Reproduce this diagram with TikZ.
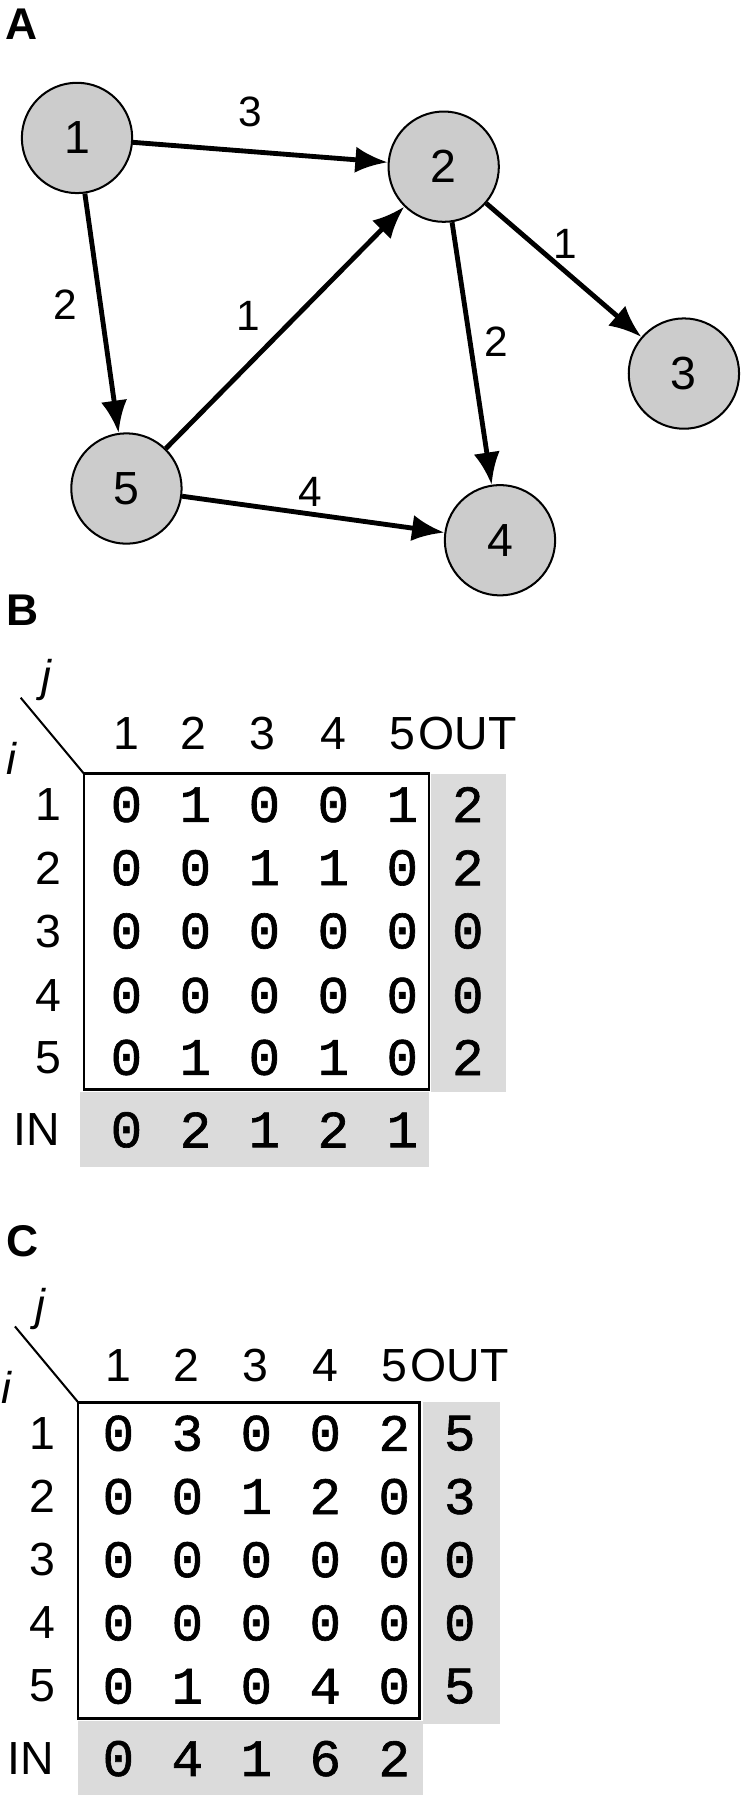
\documentclass[tikz,border=0pt]{standalone}
\usepackage{fontspec}
\setmainfont{Liberation Sans}
\newfontfamily\mono[FakeBold=1.2]{Liberation Mono}
\usetikzlibrary{arrows.meta}
\definecolor{cellgray}{gray}{0.86}
\definecolor{nodegray}{gray}{0.8}
\tikzset{
  vert/.style={circle,draw,line width=1pt,fill=nodegray,minimum size=1.92cm,inner sep=0pt,font=\fontsize{23}{26}\selectfont},
  edge/.style={-{Latex[length=16pt,width=13pt]},line width=2.4pt},
  elab/.style={font=\fontsize{21}{24}\selectfont},
  panel/.style={font=\bfseries\fontsize{22}{26}\selectfont},
  entry/.style={font=\mono\fontsize{26}{30}\selectfont},
  head/.style={font=\fontsize{23}{27}\selectfont},
  ij/.style={font=\itshape\fontsize{22}{26}\selectfont},
}
\begin{document}
\begin{tikzpicture}[x=0.02cm,y=-0.02cm]
  \useasboundingbox (0,0) rectangle (654,1566);
  % panel labels
  \node[panel] (labA) at (19,21) {A};
  \node[panel] (labB) at (20,531) {B};
  \node[panel] (labC) at (20,1080) {C};
  % graph
  \node[vert] (n1) at (67,120) {1};
  \node[vert] (n2) at (386,145) {2};
  \node[vert] (n3) at (595,325) {3};
  \node[vert] (n5) at (110,425) {5};
  \node[vert] (n4) at (435,470) {4};
  \draw[edge] (n1) -- (n2);
  \draw[edge] (n1) -- (n5);
  \draw[edge] (n5) -- (n2);
  \draw[edge] (n2) -- (n3);
  \draw[edge] (n2) -- (n4);
  \draw[edge] (n5) -- (n4);
  \node[elab] (w12) at (218,97) {3};
  \node[elab] (w15) at (57,265) {2};
  \node[elab] (w52) at (216,275) {1};
  \node[elab] (w23) at (492,212) {1};
  \node[elab] (w24) at (432,297) {2};
  \node[elab] (w54) at (270,428) {4};
  % matrix B
  \fill[cellgray] (375,673) rectangle (440,950);
  \fill[cellgray] (70,950) rectangle (373,1015);
  \draw[line width=1.2pt] (73,673) rectangle (373,948);
  \coordinate (dB0) at (18,607);
  \coordinate (dB1) at (73,673);
  \draw[line width=1pt] (dB0) -- (dB1);
  \node[ij] (jB) at (40,592) {j};
  \node[ij] (iB) at (10,660) {i};
  \foreach \c/\x in {1/110,2/168,3/228,4/290,5/350}
    \node[head] (hB\c) at (\x,638) {\c};
  \node[head] (outB) at (407,638) {OUT};
  \foreach \r/\y/\row/\o in {1/700/{0,1,0,0,1}/2,2/755/{0,0,1,1,0}/2,3/810/{0,0,0,0,0}/0,4/866/{0,0,0,0,0}/0,5/920/{0,1,0,1,0}/2}{
    \node[head] (rB\r) at (42,\y) {\r};
    \foreach \v [count=\c] in \row
      \node[entry] (mB\r\c) at (50+60*\c,\y) {\v};
    \node[entry] (oB\r) at (407,\y) {\o};
  }
  \node[head] (inB) at (32,983) {IN};
  \foreach \v [count=\c] in {0,2,1,2,1}
    \node[entry] (iB\c) at (50+60*\c,983) {\v};
  % matrix C
  \fill[cellgray] (368,1220) rectangle (435,1500);
  \fill[cellgray] (68,1497) rectangle (368,1562);
  \draw[line width=1.2pt] (68,1220) rectangle (365,1495);
  \coordinate (dC0) at (13,1154);
  \coordinate (dC1) at (68,1220);
  \draw[line width=1pt] (dC0) -- (dC1);
  \node[ij] (jC) at (35,1139) {j};
  \node[ij] (iC) at (6,1207) {i};
  \foreach \c/\x in {1/103,2/162,3/222,4/283,5/343}
    \node[head] (hC\c) at (\x,1188) {\c};
  \node[head] (outC) at (400,1188) {OUT};
  \foreach \r/\y/\row/\o in {1/1247/{0,3,0,0,2}/5,2/1302/{0,0,1,2,0}/3,3/1357/{0,0,0,0,0}/0,4/1412/{0,0,0,0,0}/0,5/1467/{0,1,0,4,0}/5}{
    \node[head] (rC\r) at (37,\y) {\r};
    \foreach \v [count=\c] in \row
      \node[entry] (mC\r\c) at (43+60*\c,\y) {\v};
    \node[entry] (oC\r) at (400,\y) {\o};
  }
  \node[head] (inC) at (27,1530) {IN};
  \foreach \v [count=\c] in {0,4,1,6,2}
    \node[entry] (iC\c) at (43+60*\c,1530) {\v};
\end{tikzpicture}
\end{document}
